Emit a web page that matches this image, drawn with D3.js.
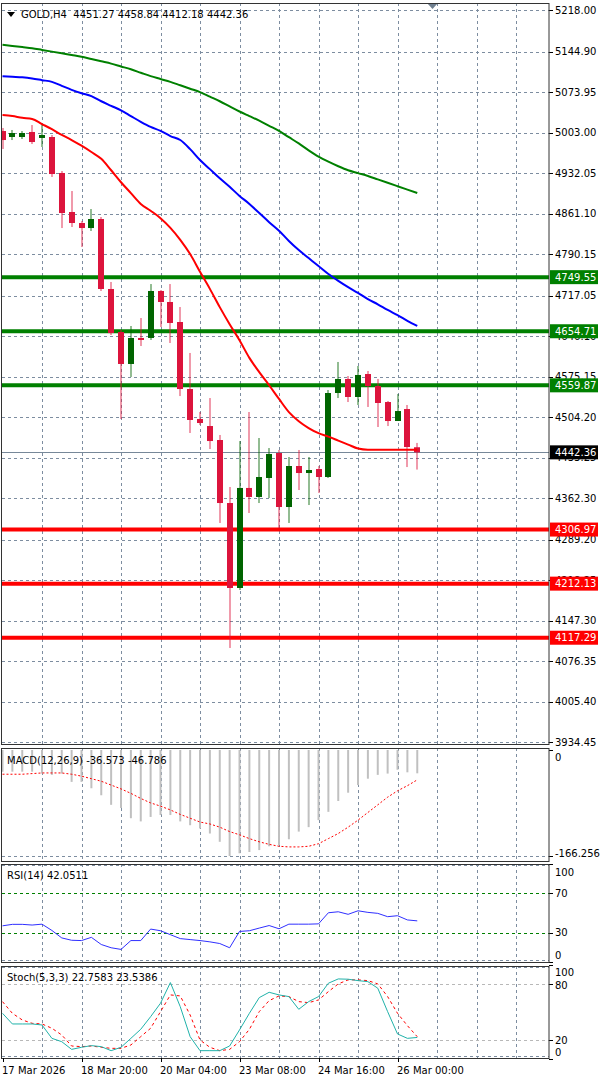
<!DOCTYPE html>
<html><head><meta charset="utf-8">
<script src="https://cdn.jsdelivr.net/npm/d3@7"></script>
<style>
body{margin:0;background:#fff}
svg{display:block}
text{font-family:"DejaVu Sans",sans-serif;font-size:10px;fill:#000}
</style>
</head><body>
<svg id="c" width="600" height="1078"></svg>
<script>
// ---------- DATA ----------
const opens  = [5005.8,4995.3,4995.3,5004.1,4993.6,4995.3,4932.2,4863.8,4844.5,4835.7,4851.5,4728.8,4653.4,4597.3,4642.9,4642.9,4725.3,4706.0,4670.9,4553.4,4500.8,4488.5,4464.0,4353.5,4204.5,4379.9,4364.1,4397.4,4441.2,4346.5,4418.4,4406.1,4413.1,4399.1,4546.4,4571.0,4539.4,4579.7,4558.7,4530.6,4497.3,4518.3,4451.27];
const highs  = [5011.1,5007.6,5005.8,5016.3,5018.1,4998.8,4935.7,4900.6,4848.0,4869.0,4855.0,4741.1,4656.9,4663.9,4677.9,4737.5,4727.0,4737.5,4697.2,4616.6,4513.1,4537.6,4472.8,4381.6,4462.2,4513.1,4467.5,4449.9,4446.5,4434.2,4446.5,4434.2,4418.4,4551.7,4600.8,4576.2,4593.8,4585.0,4571.0,4532.4,4544.7,4525.4,4458.84];
const lows   = [4974.3,4990.0,4991.8,4983.0,4977.8,4925.2,4835.7,4837.5,4802.4,4830.5,4725.3,4648.1,4500.8,4574.5,4628.8,4639.4,4662.1,4634.1,4541.1,4476.3,4490.3,4448.2,4318.5,4099.3,4201.0,4336.0,4353.5,4362.3,4309.7,4318.5,4376.3,4350.0,4371.1,4397.4,4537.6,4530.6,4525.4,4521.9,4486.8,4488.5,4497.3,4416.6,4412.18];
const closes = [4990.0,5002.3,5002.3,4986.5,4998.8,4930.4,4862.0,4844.5,4835.7,4851.5,4728.8,4651.6,4597.3,4642.9,4641.1,4725.3,4706.0,4669.2,4553.4,4499.1,4493.8,4462.2,4353.5,4204.5,4379.9,4364.1,4399.1,4439.5,4346.5,4418.4,4406.1,4411.4,4399.1,4546.4,4571.0,4539.4,4578.0,4558.7,4528.9,4497.3,4514.8,4451.7,4442.36];

const maRed   = [5034,5032,5029,5027,5018,5009,4999,4990,4980,4969,4957,4937,4916,4897,4878,4866,4853,4836,4815,4790,4759,4729,4697,4667,4639,4608,4583,4560,4536,4513,4497,4485,4476,4470,4463,4456,4449,4447,4447,4447,4447,4447,4447];
const maBlue  = [5102,5101,5100,5098,5095,5092,5085,5078,5072,5067,5058,5050,5042,5032,5022,5013,5006,4997,4990,4974,4955,4939,4923,4908,4892,4878,4862,4846,4831,4813,4797,4783,4769,4755,4743,4732,4722,4711,4702,4692,4683,4673,4664];
const maGreen = [5157,5155,5153,5151,5148,5145,5142,5139,5136,5132,5128,5124,5119,5114,5108,5102,5097,5092,5086,5080,5074,5066,5058,5049,5040,5032,5024,5015,5006,4995,4984,4972,4961,4952,4944,4937,4932,4927,4921,4915,4909,4903,4897];

const macdMain   = [-34,-34,-34,-34,-37,-39,-37,-50,-50,-60,-71,-86,-91,-107,-112,-105,-102,-102,-112,-118,-123,-131,-144,-166.256,-162,-160,-157,-151,-149,-140,-128,-121,-110,-97,-80,-67,-55,-45,-39,-37,-31,-35,-36.573];
const macdSignal = [-38,-38,-38,-37,-36,-36,-36,-38,-41,-45,-49,-55,-61,-68,-76,-83,-88,-94,-101,-107,-113,-116,-121,-128,-133,-139,-144,-148,-151,-152,-152,-151,-147,-139,-131,-121,-110,-98,-86,-74,-64,-56,-46.786];
const rsiValues  = [37,38.5,38.5,37.8,38.7,32.3,24.7,22.3,22,25.3,18,14.7,13,22,22,33.7,32,28,24,23,22,20.7,19,14.7,31.3,32,34.7,37.3,34,38.7,38.7,38.7,39,50.3,51.3,48.7,52.3,50.7,49.7,46.3,47.3,43,42.05];
const stochK     = [48.6,37.2,37.2,37.2,36.1,21.8,18.2,10,12.2,14,12.9,8.6,12.2,21.8,31.5,45,59.4,81.5,55.7,23.6,8.6,8.6,8.6,13.6,30.8,48.6,65.4,71.1,68.3,66.5,52.9,61.1,66.5,80.8,85.4,85.1,83.6,82.5,75.5,50.4,26.5,21.8,22.76];
const stochD     = [61.1,48.6,41.5,37.9,37.2,32.6,25.4,13.6,12.9,13.6,12.2,11.1,11.1,14.7,23.6,32.6,50.4,68.3,67.2,46.8,20,12.2,8.6,10,18.2,31.5,50.4,62.2,67.2,66.5,61.1,60,62.9,71.8,80.1,84.4,84.4,83.6,80.1,66.5,48.6,35.4,23.54];

const priceTicks = ["5218.00","5144.90","5073.95","5003.00","4932.05","4861.10","4790.15","4717.05","4646.10","4575.15","4504.20","4433.25","4362.30","4289.20","4218.25","4147.30","4076.35","4005.40","3934.45"];
const resistanceLevels = [4749.55,4654.71,4559.87];
const supportLevels    = [4306.97,4212.13,4117.29];
const bidPrice = 4442.36;
const timeLabels = ["17 Mar 2026","18 Mar 20:00","20 Mar 04:00","23 Mar 08:00","24 Mar 16:00","26 Mar 00:00"];
const timeLabelBars = [0,8,16,24,32,40];
const rsiLevels = [70,30];
const stochLevels = [80,20];
const titleText = "GOLD,H4  4451.27 4458.84 4412.18 4442.36";

// ---------- LAYOUT ----------
const plotL = 2, plotR = 549;
const panes = {main:[3,744], macd:[748,861], rsi:[864,962], stoch:[966,1058]};
const svg = d3.select("#c");
const x  = d3.scaleLinear().domain([0,55.34]).range([2.5,549]);
const y  = d3.scaleLinear().domain([3934.45,5218]).range([742,10]);
const yM = d3.scaleLinear().domain([-166.256,0]).range([856,750]);
const yR = d3.scaleLinear().domain([0,100]).range([962.2,863.9]);
const yS = d3.scaleLinear().domain([0,100]).range([1058.7,965.3]);
const gridColor = "#7d8da0";
const gridBars = d3.range(4,56,4);
const idx = d3.range(opens.length);

const defs = svg.append("defs");
Object.entries(panes).forEach(([k,[t,b]])=>{
  defs.append("clipPath").attr("id","clip-"+k).append("rect")
    .attr("x",plotL).attr("y",t).attr("width",plotR-plotL).attr("height",b-t);
});
function paneGroup(k){ return svg.append("g").attr("clip-path","url(#clip-"+k+")"); }
function vgrid(g,t,b){
  gridBars.forEach(i=>{
    const gx = Math.round(x(i))+0.5;
    g.append("line").attr("x1",gx).attr("x2",gx).attr("y1",t).attr("y2",b)
      .attr("stroke",gridColor).attr("stroke-dasharray","3,3").attr("stroke-width",1);
  });
}
function hline(g,yy,color,dash,w){
  g.append("line").attr("x1",plotL).attr("x2",plotR).attr("y1",yy).attr("y2",yy)
    .attr("stroke",color).attr("stroke-width",w||1).attr("stroke-dasharray",dash||null);
}
function rightLabel(txt,yy){
  svg.append("line").attr("x1",plotR).attr("x2",plotR+4).attr("y1",Math.round(yy)+0.5).attr("y2",Math.round(yy)+0.5).attr("stroke","#000");
}
function axisText(txt,yy){
  svg.append("text").attr("x",555).attr("y",yy).attr("dy","0.35em").text(txt);
}

// ---------- MAIN PANE ----------
const gm = paneGroup("main");
vgrid(gm,panes.main[0],panes.main[1]);
priceTicks.forEach(t=>hline(gm,Math.round(y(+t))+0.5,gridColor,"3,3"));
hline(gm,Math.round(y(bidPrice))+0.5,"#778899");
resistanceLevels.forEach(v=>hline(gm,y(v),"#008000",null,4));
supportLevels.forEach(v=>hline(gm,y(v),"#ff0000",null,4));

// candles
idx.forEach(i=>{
  const up = closes[i] >= opens[i];
  const col = up ? "#006400" : "#dc143c";
  const cx = Math.round(x(i));
  gm.append("rect").attr("x",cx-0.5).attr("width",1)
    .attr("y",y(highs[i])).attr("height",Math.max(1,y(lows[i])-y(highs[i])))
    .attr("fill",col).attr("opacity",0.85);
  const top = y(Math.max(opens[i],closes[i])), bot = y(Math.min(opens[i],closes[i]));
  gm.append("rect").attr("x",cx-3).attr("width",6)
    .attr("y",top).attr("height",Math.max(2,bot-top)).attr("fill",col);
});

// moving averages
const lineP = (arr,sc)=>d3.line().curve(d3.curveMonotoneX).x((d,i)=>x(i)).y(d=>sc(d))(arr);
const lineS = (arr,sc)=>d3.line().x((d,i)=>x(i)).y(d=>sc(d))(arr);
[[maGreen,"#008000"],[maBlue,"#0000ff"],[maRed,"#ff0000"]].forEach(([a,c])=>{
  gm.append("path").attr("d",lineP(a,y)).attr("fill","none").attr("stroke",c).attr("stroke-width",2);
});

// shift marker
svg.append("path").attr("d","M427,3 L438,3 L432.5,9 Z").attr("fill","#708090");

// title
svg.append("path").attr("d","M7,12 L15,12 L11,17 Z").attr("fill","#000");
svg.append("text").attr("x",21).attr("y",14).attr("dy","0.35em").style("white-space","pre").text(titleText);

// price axis
priceTicks.forEach(t=>{ rightLabel(t,y(+t)); axisText(t,y(+t)); });
function levelBox(v,bg,fg){
  const yy = y(v);
  svg.append("rect").attr("x",550).attr("y",yy-7).attr("width",48).attr("height",14).attr("fill",bg);
  svg.append("text").attr("x",555).attr("y",yy).attr("dy","0.35em").style("fill",fg).text(v.toFixed(2));
}
resistanceLevels.forEach(v=>levelBox(v,"#008000","#fff"));
supportLevels.forEach(v=>levelBox(v,"#ff0000","#fff"));
levelBox(bidPrice,"#000","#fff");

// ---------- MACD ----------
const gM = paneGroup("macd");
vgrid(gM,panes.macd[0],panes.macd[1]);
hline(gM,Math.round(yM(-166.256))+0.5,gridColor,"3,3");
idx.forEach(i=>{
  gM.append("line").attr("x1",x(i)).attr("x2",x(i)).attr("y1",yM(0)).attr("y2",yM(macdMain[i]))
    .attr("stroke","#c0c0c0").attr("stroke-width",2);
});
gM.append("path").attr("d",lineS(macdSignal,yM)).attr("fill","none").attr("stroke","#ff0000")
  .attr("stroke-width",1).attr("stroke-dasharray","2,2");
svg.append("text").attr("x",7).attr("y",760).attr("dy","0.35em").text("MACD(12,26,9) -36.573 -46.786");
rightLabel("0",yM(0)); axisText("0",757);
rightLabel("-166.256",yM(-166.256)); axisText("-166.256",853);

// ---------- RSI ----------
const gR = paneGroup("rsi");
vgrid(gR,panes.rsi[0],panes.rsi[1]);
hline(gR,865.5,gridColor,"3,3");
hline(gR,960.5,gridColor,"3,3");
rsiLevels.forEach(v=>hline(gR,Math.round(yR(v))+0.5,"#008000","3,3"));
gR.append("path").attr("d",lineS(rsiValues,yR)).attr("fill","none").attr("stroke","#2f2fff").attr("stroke-width",1);
svg.append("text").attr("x",7).attr("y",875).attr("dy","0.35em").text("RSI(14) 42.0511");
[[100,872],[70,yR(70)],[30,yR(30)],[0,955]].forEach(([v,p])=>{ rightLabel(v,yR(v)); axisText(String(v),p); });

// ---------- STOCH ----------
const gS = paneGroup("stoch");
vgrid(gS,panes.stoch[0],panes.stoch[1]);
hline(gS,967.5,gridColor,"3,3");
hline(gS,1056.5,gridColor,"3,3");
stochLevels.forEach(v=>hline(gS,Math.round(yS(v))+0.5,"#b8b8b8","3,3"));
gS.append("path").attr("d",lineS(stochD,yS)).attr("fill","none").attr("stroke","#ff0000")
  .attr("stroke-width",1).attr("stroke-dasharray","3,3");
gS.append("path").attr("d",lineS(stochK,yS)).attr("fill","none").attr("stroke","#20b2aa").attr("stroke-width",1);
svg.append("text").attr("x",7).attr("y",977).attr("dy","0.35em").text("Stoch(5,3,3) 22.7583 23.5386");
[[100,972],[80,985],[20,1040],[0,1052]].forEach(([v,p])=>{ rightLabel(v,yS(v)); axisText(String(v),p); });

// ---------- PANE BORDERS ----------
Object.values(panes).forEach(([t,b])=>{
  svg.append("rect").attr("x",plotL-0.5).attr("y",t+0.5).attr("width",plotR-plotL+0.5).attr("height",b-t)
    .attr("fill","none").attr("stroke","#333").attr("stroke-width",1);
});

// ---------- TIME AXIS ----------
timeLabelBars.forEach((b,k)=>{
  const tx = k===0 ? 3 : Math.round(x(b));
  svg.append("line").attr("x1",tx+0.5).attr("x2",tx+0.5).attr("y1",1058).attr("y2",1062).attr("stroke","#000");
  svg.append("text").attr("x",k===0?2:tx-1).attr("y",1070).attr("dy","0.35em").text(timeLabels[k]);
});
</script>
</body></html>
